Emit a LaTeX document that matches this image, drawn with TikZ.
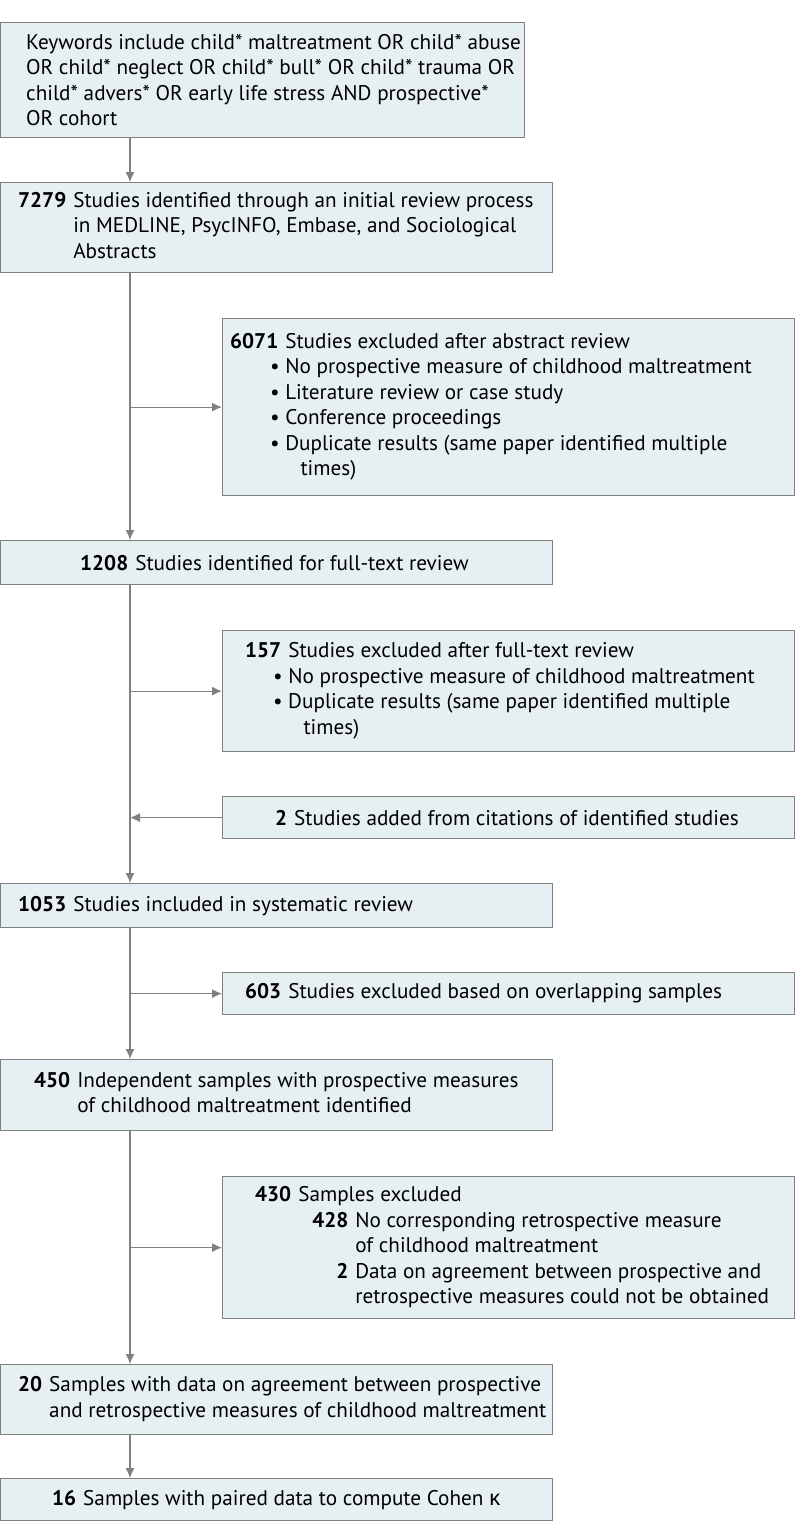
\documentclass[tikz,border=0pt]{standalone}
\usepackage{fontspec}
\setmainfont{PT Sans}
\newfontfamily\greekfont{Noto Sans}
\usetikzlibrary{arrows.meta,calc}
\definecolor{boxfill}{RGB}{230, 240, 242}
\definecolor{boxline}{RGB}{128, 128, 128}
\tikzset{
  box/.style={draw=boxline, fill=boxfill, line width=1.2pt, anchor=north west, inner sep=0pt},
  txt/.style={anchor=west, inner sep=0pt, font=\fontsize{21.2}{25.5}\selectfont, align=left},
  flow/.style={draw=boxline, line width=1.2pt, -{Latex[length=10pt,width=9pt]}},
}
\newcommand{\num}[1]{\textbf{#1}}
\newcommand{\bul}{\llap{\textbullet\ }}
\begin{document}
\begin{tikzpicture}[x=1pt,y=-1pt]
  \useasboundingbox (0,0) rectangle (798,1540);
  \def\spine{130}

  % Main boxes
  \node[box, minimum width=524, minimum height=115] (search) at (0,22) {};
  \node[box, minimum width=552, minimum height=90] (ident) at (0,182) {};
  \node[box, minimum width=552, minimum height=44] (full) at (0,540) {};
  \node[box, minimum width=552, minimum height=44] (incl) at (0,883) {};
  \node[box, minimum width=552, minimum height=71] (indep) at (0,1059) {};
  \node[box, minimum width=552, minimum height=70] (agree) at (0,1364) {};
  \node[box, minimum width=552, minimum height=42] (kappa) at (0,1478) {};

  % Side boxes
  \node[box, minimum width=572, minimum height=177] (exabs) at (222,318) {};
  \node[box, minimum width=572, minimum height=121] (exfull) at (222,630) {};
  \node[box, minimum width=572, minimum height=42] (added) at (222,796) {};
  \node[box, minimum width=572, minimum height=42] (exover) at (222,972) {};
  \node[box, minimum width=572, minimum height=142] (exsamp) at (222,1176) {};

  % Texts
  \node[txt] (t-search) at ($(search.west)+(26,0)$) {Keywords include child* maltreatment OR child* abuse\\OR child* neglect OR child* bull* OR child* trauma OR\\child* advers* OR early life stress AND prospective*\\OR cohort};
  \node[txt] (t-ident) at ($(ident.west)+(18,0)$) {\begin{tabular}{@{}l@{\hspace{7pt}}l@{}}\num{7279} & Studies identified through an initial review process\\ & in MEDLINE, PsycINFO, Embase, and Sociological\\ & Abstracts\end{tabular}};
  \node[txt] (t-exabs) at ($(exabs.west)+(8,0)$) {\begin{tabular}{@{}l@{\hspace{7pt}}l@{}}\num{6071} & Studies excluded after abstract review\\ & \bul No prospective measure of childhood maltreatment\\ & \bul Literature review or case study\\ & \bul Conference proceedings\\ & \bul Duplicate results (same paper identified multiple\\ & \phantom{\textbullet\ }times)\end{tabular}};
  \node[txt] (t-full) at ($(full.west)+(80,0)$) {\num{1208}\hspace{7pt}Studies identified for full-text review};
  \node[txt] (t-exfull) at ($(exfull.west)+(23,0)$) {\begin{tabular}{@{}l@{\hspace{7pt}}l@{}}\num{157} & Studies excluded after full-text review\\ & \bul No prospective measure of childhood maltreatment\\ & \bul Duplicate results (same paper identified multiple\\ & \phantom{\textbullet\ }times)\end{tabular}};
  \node[txt] (t-added) at ($(added.west)+(53,0)$) {\num{2}\hspace{7pt}Studies added from citations of identified studies};
  \node[txt] (t-incl) at ($(incl.west)+(18,0)$) {\num{1053}\hspace{7pt}Studies included in systematic review};
  \node[txt] (t-exover) at ($(exover.west)+(23,0)$) {\num{603}\hspace{7pt}Studies excluded based on overlapping samples};
  \node[txt] (t-indep) at ($(indep.west)+(34,0)$) {\begin{tabular}{@{}l@{\hspace{7pt}}l@{}}\num{450} & Independent samples with prospective measures\\ & of childhood maltreatment identified\end{tabular}};
  \node[txt] (t-exsamp) at ($(exsamp.west)+(33,0)$) {\begin{tabular}{@{}l@{\hspace{7pt}}l@{}}\num{430} & Samples excluded\\ & \begin{tabular}{@{}r@{\hspace{7pt}}l@{}}\hspace{14pt}\num{428} & No corresponding retrospective measure\\ & of childhood maltreatment\\ \num{2} & Data on agreement between prospective and\\ & retrospective measures could not be obtained\end{tabular}\end{tabular}};
  \node[txt] (t-agree) at ($(agree.west)+(18,0)$) {\begin{tabular}{@{}l@{\hspace{7pt}}l@{}}\num{20} & Samples with data on agreement between prospective\\ & and retrospective measures of childhood maltreatment\end{tabular}};
  \node[txt] (t-kappa) at ($(kappa.west)+(52,0)$) {\num{16}\hspace{7pt}Samples with paired data to compute Cohen {\greekfont κ}};

  % Spine connectors
  \draw[flow] (search.south west -| {\spine,0}) -- (ident.north west -| {\spine,0});
  \draw[flow] (ident.south west -| {\spine,0}) -- (full.north west -| {\spine,0});
  \draw[flow] (full.south west -| {\spine,0}) -- (incl.north west -| {\spine,0});
  \draw[flow] (incl.south west -| {\spine,0}) -- (indep.north west -| {\spine,0});
  \draw[flow] (indep.south west -| {\spine,0}) -- (agree.north west -| {\spine,0});
  \draw[flow] (agree.south west -| {\spine,0}) -- (kappa.north west -| {\spine,0});

  % Side connectors
  \draw[flow] (exabs.west -| {\spine,0}) -- (exabs.west);
  \draw[flow] (exfull.west -| {\spine,0}) -- (exfull.west);
  \draw[flow] (added.west) -- (added.west -| {\spine,0});
  \draw[flow] (exover.west -| {\spine,0}) -- (exover.west);
  \draw[flow] (exsamp.west -| {\spine,0}) -- (exsamp.west);
\end{tikzpicture}
\end{document}
